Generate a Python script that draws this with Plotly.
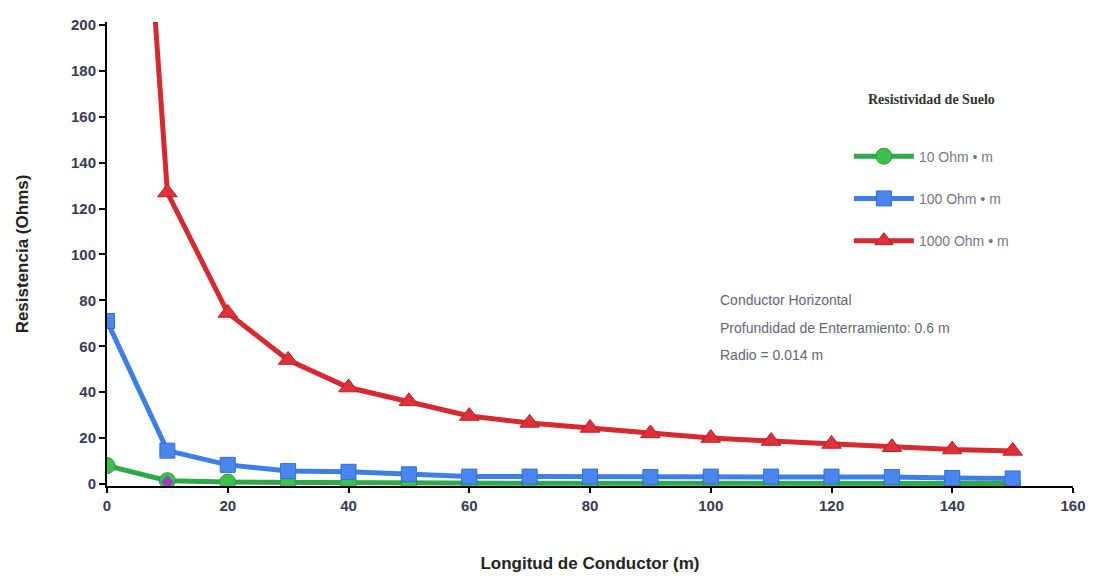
import plotly.graph_objects as go

longitud = [0, 10, 20, 30, 40, 50, 60, 70, 80, 90, 100, 110, 120, 130, 140, 150]
r_10 = [8.0, 1.4, 0.8, 0.6, 0.5, 0.4, 0.4, 0.3, 0.3, 0.3, 0.3, 0.3, 0.3, 0.2, 0.2, 0.2]
r_100 = [71.0, 14.5, 8.3, 5.6, 5.3, 4.2, 3.2, 3.2, 3.2, 3.0, 3.2, 3.2, 3.2, 3.0, 2.6, 2.4]
r_1000 = [500.0, 127.0, 74.5, 54.0, 42.0, 36.0, 29.6, 26.6, 24.4, 22.0, 20.0, 18.7, 17.4, 16.0, 15.0, 14.4]
extra_x = [10]
extra_y = [0.8]

x_ticks = [0, 20, 40, 60, 80, 100, 120, 140, 160]
y_ticks = [0, 20, 40, 60, 80, 100, 120, 140, 160, 180, 200]

note_lines = ["Conductor Horizontal", "Profundidad de Enterramiento: 0.6 m", "Radio = 0.014 m"]

fig = go.Figure()

fig.add_trace(go.Scatter(
    x=longitud, y=r_10, mode="lines+markers", name="10 Ohm • m",
    legendgroup="a",
    line=dict(color="#2fa84a", width=5),
    marker=dict(symbol="circle", size=16, color="#3cc04e", line=dict(color="#2a9a3e", width=1)),
))
fig.add_trace(go.Scatter(
    x=longitud, y=r_100, mode="lines+markers", name="100 Ohm • m",
    legendgroup="b",
    line=dict(color="#3d7fe6", width=5),
    marker=dict(symbol="square", size=15, color="#4a86ee", line=dict(color="#2f6fd8", width=1)),
))
fig.add_trace(go.Scatter(
    x=longitud, y=r_1000, mode="lines+markers", name="1000 Ohm • m",
    legendgroup="c",
    line=dict(color="#d42a30", width=5),
    marker=dict(symbol="triangle-up", size=17, color="#e0303a", line=dict(color="#b81f26", width=1)),
))
fig.add_trace(go.Scatter(
    x=extra_x, y=extra_y, mode="markers", showlegend=False,
    marker=dict(symbol="diamond", size=10, color="#9b3fc0"),
))

fig.update_layout(
    width=1101, height=579,
    margin=dict(l=99, r=36, t=14, b=101),
    paper_bgcolor="white", plot_bgcolor="white",
    font=dict(family="Liberation Sans, Arial, sans-serif", color="#333344"),
    showlegend=True,
    legend=dict(
        x=0.768, y=0.862, xanchor="left", yanchor="top",
        bgcolor="rgba(0,0,0,0)",
        title=dict(text="<b>Resistividad de Suelo</b><br> <br> ", side="top center",
                   font=dict(family="Liberation Serif, Times New Roman, serif", size=14, color="#333333")),
        font=dict(size=14, color="#777788"),
        traceorder="grouped", tracegroupgap=21,
        itemwidth=60,
    ),
    xaxis=dict(
        range=[0, 160], tickvals=x_ticks, ticktext=[f"<b>{v}</b>" for v in x_ticks],
        showgrid=False, zeroline=False, automargin=False,
        showline=True, linecolor="black", linewidth=2,
        ticks="outside", ticklen=5, tickcolor="black", tickwidth=2,
        tickfont=dict(size=15, color="#3a3a55", family="Liberation Sans, Arial, sans-serif"),
        title=dict(text="<b>Longitud de Conductor (m)</b>", font=dict(size=17, color="#222222"), standoff=44),
    ),
    yaxis=dict(
        range=[-0.9, 201.3], tickvals=y_ticks, ticktext=[f"<b>{v}</b>" for v in y_ticks],
        showgrid=False, zeroline=False, automargin=False,
        showline=True, linecolor="black", linewidth=2,
        ticks="outside", ticklen=6, tickcolor="black", tickwidth=2,
        tickfont=dict(size=15, color="#3a3a55", family="Liberation Sans, Arial, sans-serif"),
        title=dict(text="<b>Resistencia (Ohms)</b>", font=dict(size=17, color="#222222"), standoff=38),
    ),
)

for i, line in enumerate(note_lines):
    fig.add_annotation(
        xref="paper", yref="paper", x=0.633, y=0.40 - i * 0.059, xanchor="left", yanchor="middle",
        text=line, showarrow=False, align="left",
        font=dict(size=14, color="#666677", family="Liberation Sans, Arial, sans-serif"),
    )

fig.write_html("out.html")
